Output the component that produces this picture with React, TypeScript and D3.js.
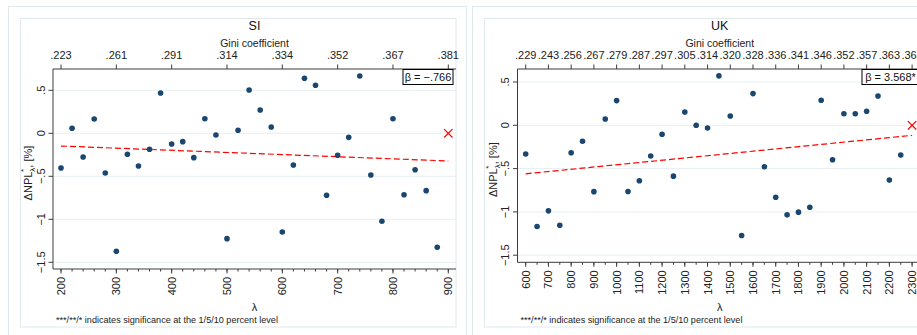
import React from "react";
import * as d3 from "d3";

// ---------- DATA ----------
const siLambda = [200, 220, 240, 260, 280, 300, 320, 340, 360, 380, 400, 420, 440, 460, 480, 500, 520, 540, 560, 580, 600, 620, 640, 660, 680, 700, 720, 740, 760, 780, 800, 820, 840, 860, 880];
const siValues = [-0.403, 0.058, -0.276, 0.166, -0.462, -1.372, -0.244, -0.38, -0.186, 0.469, -0.124, -0.097, -0.283, 0.17, -0.02, -1.225, 0.035, 0.503, 0.271, 0.073, -1.148, -0.369, 0.64, 0.558, -0.721, -0.256, -0.047, 0.666, -0.485, -1.023, 0.17, -0.714, -0.423, -0.667, -1.326];
const siTickLambda = [200, 300, 400, 500, 600, 700, 800, 900];
const siGiniLabels = [".223", ".261", ".291", ".314", ".334", ".352", ".367", ".381"];
const siFitLambda = [200, 900];
const siFitValues = [-0.148, -0.322];
const siRefPoint = [900, 0];
const siBeta = "β = −.766";

const ukLambda = [600, 650, 700, 750, 800, 850, 900, 950, 1000, 1050, 1100, 1150, 1200, 1250, 1300, 1350, 1400, 1450, 1500, 1550, 1600, 1650, 1700, 1750, 1800, 1850, 1900, 1950, 2000, 2050, 2100, 2150, 2200, 2250];
const ukValues = [-0.332, -1.169, -0.988, -1.154, -0.317, -0.185, -0.766, 0.073, 0.285, -0.764, -0.641, -0.355, -0.104, -0.587, 0.154, 0.0, -0.031, 0.571, 0.108, -1.273, 0.366, -0.479, -0.83, -1.034, -1.003, -0.946, 0.289, -0.398, 0.134, 0.134, 0.162, 0.339, -0.633, -0.344];
const ukTickLambda = [600, 700, 800, 900, 1000, 1100, 1200, 1300, 1400, 1500, 1600, 1700, 1800, 1900, 2000, 2100, 2200, 2300];
const ukGiniLabels = [".229", ".243", ".256", ".267", ".279", ".287", ".297", ".305", ".314", ".320", ".328", ".336", ".341", ".346", ".352", ".357", ".363", ".368"];
const ukFitLambda = [600, 2300];
const ukFitValues = [-0.56, -0.116];
const ukRefPoint = [2300, 0];
const ukBeta = "β = 3.568*";

const yTicks = [-1.5, -1, -0.5, 0, 0.5];
const yTickLabels = ["−1.5", "−1", "−.5", "0", ".5"];
const footnote = "***/**/* indicates significance at the 1/5/10 percent level";

// ---------- STYLE ----------
const FONT = "'Liberation Sans', Arial, Helvetica, sans-serif";
const NAVY = "#1a476f";
const RED = "#ff0000";
const AXIS = "#3c3c3c";
const GRID = "#e6eff1";
const FRAME = "#dfe8ec";

type PanelProps = {
  ox: number;
  title: string;
  lambda: number[];
  values: number[];
  tickLambda: number[];
  giniLabels: string[];
  minorStep: number;
  fitLambda: number[];
  fitValues: number[];
  refPoint: number[];
  beta: string;
  plotL: number;
  plotR: number;
  plotT: number;
  plotB: number;
  xDomain: [number, number];
  xRange: [number, number];
  yZero: number;
  yUnit: number;
  boxW: number;
  innerR: number;
};

function Panel(p: PanelProps) {
  const x = d3.scaleLinear().domain(p.xDomain).range(p.xRange);
  const y = d3.scaleLinear().domain([0, 1]).range([p.yZero, p.yZero - p.yUnit]);
  const minor = d3.range(p.xDomain[0], p.xDomain[1] + 0.001, p.minorStep);
  const cx = (p.plotL + Math.min(p.plotR, p.innerR)) / 2;
  const midY = (p.plotT + p.plotB) / 2;
  const line = d3
    .line<number>()
    .x((_, i) => x(p.fitLambda[i]))
    .y((v) => y(v));
  const s = 4.2;
  const rx = x(p.refPoint[0]);
  const ry = y(p.refPoint[1]);
  return (
    <g fontFamily={FONT}>
      {/* frames */}
      <rect x={p.ox + 8.5} y={6.5} width={458} height={340} fill="none" stroke={FRAME} />
      <rect x={p.ox + 20.5} y={18.5} width={p.innerR - p.ox - 20.5} height={308.5} fill="none" stroke={FRAME} />
      {/* gridlines */}
      {yTicks.map((t) => (
        <line key={"g" + t} x1={p.plotL} x2={p.plotR} y1={y(t)} y2={y(t)} stroke={GRID} strokeWidth={1} />
      ))}
      {/* titles */}
      <text x={cx} y={30} fontSize={12.5} textAnchor="middle" fill="#111">{p.title}</text>
      <text x={cx} y={46.5} fontSize={10.5} textAnchor="middle" fill="#222">Gini coefficient</text>
      {/* top axis */}
      <line x1={p.plotL} x2={p.plotR} y1={p.plotT} y2={p.plotT} stroke={AXIS} strokeWidth={1} />
      {p.tickLambda.map((t, i) => (
        <g key={"tt" + t}>
          <line x1={x(t)} x2={x(t)} y1={p.plotT} y2={p.plotT - 4.5} stroke={AXIS} />
          <text x={x(t)} y={59} fontSize={11} textAnchor="middle" fill="#222">{p.giniLabels[i]}</text>
        </g>
      ))}
      {/* left axis */}
      <line x1={p.plotL} x2={p.plotL} y1={p.plotT} y2={p.plotB} stroke={AXIS} strokeWidth={1} />
      {yTicks.map((t, i) => (
        <g key={"yt" + t}>
          <line x1={p.plotL - 4.5} x2={p.plotL} y1={y(t)} y2={y(t)} stroke={AXIS} />
          <text
            transform={`translate(${p.plotL - 8.5},${y(t)}) rotate(-90)`}
            fontSize={11}
            textAnchor="middle"
            fill="#222"
          >
            {yTickLabels[i]}
          </text>
        </g>
      ))}
      <text transform={`translate(${p.plotL - 21},${midY + 4}) rotate(-90)`} fontSize={11} textAnchor="middle" fill="#222">
        ΔNPL
        <tspan fontSize={8} dy={3}>λ</tspan>
        <tspan fontSize={8} dx={-4.4} dy={-9}>*</tspan>
        <tspan dx={1.3} dy={6}>, [%]</tspan>
      </text>
      {/* bottom axis */}
      <line x1={p.plotL} x2={p.plotR} y1={p.plotB} y2={p.plotB} stroke={AXIS} strokeWidth={1} />
      {minor.map((t) => (
        <line key={"mn" + t} x1={x(t)} x2={x(t)} y1={p.plotB} y2={p.plotB + 2.5} stroke={AXIS} />
      ))}
      {p.tickLambda.map((t) => (
        <g key={"bt" + t}>
          <line x1={x(t)} x2={x(t)} y1={p.plotB} y2={p.plotB + 4.5} stroke={AXIS} />
          <text
            transform={`translate(${x(t)},${p.plotB + 8}) rotate(-90)`}
            fontSize={11}
            textAnchor="end"
            dominantBaseline="central"
            fill="#222"
          >
            {t}
          </text>
        </g>
      ))}
      <text x={cx} y={311} fontSize={11} textAnchor="middle" fill="#222">λ</text>
      <text x={p.plotL + 3} y={322.5} fontSize={9.1} fill="#222">{footnote}</text>
      {/* fit line */}
      <path d={line(p.fitValues) || ""} fill="none" stroke={RED} strokeWidth={1.2} strokeDasharray="6,3" />
      {/* points */}
      {p.lambda.map((l, i) => (
        <circle key={"c" + l} cx={x(l)} cy={y(p.values[i])} r={2.8} fill={NAVY} />
      ))}
      {/* reference marker */}
      <path d={`M${rx - s},${ry - s}L${rx + s},${ry + s}M${rx - s},${ry + s}L${rx + s},${ry - s}`} stroke={RED} strokeWidth={1.2} />
      {/* beta box */}
      <rect x={p.plotR - 3 - p.boxW} y={p.plotT + 0.5} width={p.boxW} height={15} fill="#fff" stroke="#000" strokeWidth={1} />
      <text x={p.plotR - 3 - p.boxW / 2} y={p.plotT + 12} fontSize={11} textAnchor="middle" fill="#111">{p.beta}</text>
    </g>
  );
}

export default function App() {
  return (
    <svg
      width={917}
      height={335}
      style={{ position: "absolute", left: 0, top: 0, background: "#fff", overflow: "hidden" }}
    >
      <rect x={0} y={0} width={917} height={335} fill="#fff" />
      <Panel
        ox={0}
        title="SI"
        lambda={siLambda}
        values={siValues}
        tickLambda={siTickLambda}
        giniLabels={siGiniLabels}
        minorStep={20}
        fitLambda={siFitLambda}
        fitValues={siFitValues}
        refPoint={siRefPoint}
        beta={siBeta}
        plotL={53}
        plotR={456}
        plotT={69}
        plotB={269}
        xDomain={[200, 900]}
        xRange={[61, 448.3]}
        yZero={133.3}
        yUnit={86}
        boxW={50}
        innerR={456}
      />
      <Panel
        ox={464}
        title="UK"
        lambda={ukLambda}
        values={ukValues}
        tickLambda={ukTickLambda}
        giniLabels={ukGiniLabels}
        minorStep={50}
        fitLambda={ukFitLambda}
        fitValues={ukFitValues}
        refPoint={ukRefPoint}
        beta={ukBeta}
        plotL={517.5}
        plotR={922}
        plotT={69}
        plotB={262.3}
        xDomain={[600, 2300]}
        xRange={[525.7, 912.1]}
        yZero={125.3}
        yUnit={86.6}
        boxW={57}
        innerR={930}
      />
    </svg>
  );
}
